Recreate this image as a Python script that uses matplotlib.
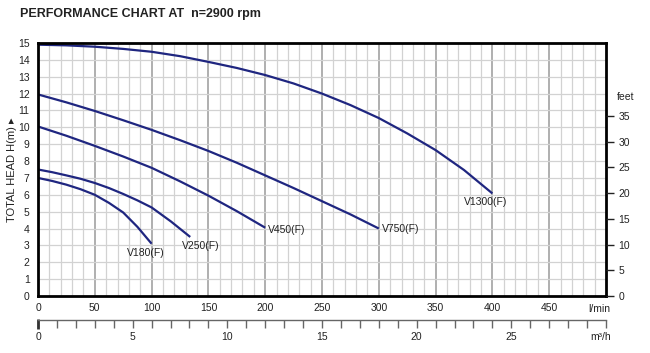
import numpy as np
import matplotlib
matplotlib.use("Agg")
import matplotlib.pyplot as plt
from matplotlib.ticker import MultipleLocator

# --- Data ---
v1300_q = [0, 25, 50, 75, 100, 125, 150, 175, 200, 225, 250, 275, 300, 325, 350, 375, 400]
v1300_h = [14.9, 14.86, 14.78, 14.65, 14.48, 14.22, 13.88, 13.52, 13.1, 12.6, 12.0, 11.32,
           10.55, 9.64, 8.65, 7.47, 6.08]

v750_q = [0, 25, 50, 75, 100, 125, 150, 175, 200, 225, 250, 275, 300]
v750_h = [11.95, 11.48, 10.97, 10.42, 9.85, 9.24, 8.6, 7.9, 7.15, 6.4, 5.62, 4.84, 4.0]

v450_q = [0, 25, 50, 75, 100, 125, 150, 175, 200]
v450_h = [10.05, 9.5, 8.9, 8.27, 7.6, 6.8, 5.95, 5.03, 4.05]

v250_q = [0, 12.5, 25, 37.5, 50, 62.5, 75, 87.5, 100, 117, 134]
v250_h = [7.5, 7.34, 7.15, 6.95, 6.7, 6.4, 6.05, 5.67, 5.25, 4.42, 3.5]

v180_q = [0, 12.5, 25, 37.5, 50, 62.5, 75, 87.5, 100]
v180_h = [7.0, 6.82, 6.6, 6.33, 6.0, 5.52, 4.95, 4.1, 3.1]

curves = [
    ("V1300(F)", v1300_q, v1300_h),
    ("V750(F)", v750_q, v750_h),
    ("V450(F)", v450_q, v450_h),
    ("V250(F)", v250_q, v250_h),
    ("V180(F)", v180_q, v180_h),
]

x_ticks = [0, 50, 100, 150, 200, 250, 300, 350, 400, 450]
m3h_ticks = [0, 5, 10, 15, 20, 25]
feet_ticks = [0, 5, 10, 15, 20, 25, 30, 35]

plt.rcParams['font.family'] = ['Liberation Sans', 'DejaVu Sans']
line_col = '#1f2680'
txt_col = '#222222'

W, H = 650, 353
fig = plt.figure(figsize=(W / 100, H / 100), dpi=100)

# --- Main chart ---
x0, x1, ytop, ybot = 38, 606, 43, 296
ax = fig.add_axes([x0 / W, 1 - ybot / H, (x1 - x0) / W, (ybot - ytop) / H])
ax.set_xlim(0, 500)
ax.set_ylim(0, 15)

ax.xaxis.set_major_locator(MultipleLocator(50))
ax.xaxis.set_minor_locator(MultipleLocator(10))
ax.yaxis.set_major_locator(MultipleLocator(1))
ax.grid(which='minor', axis='x', color='#d2d2d2', lw=0.9)
ax.grid(which='major', axis='x', color='#9a9a9a', lw=1.1)
ax.grid(which='major', axis='y', color='#d2d2d2', lw=0.9)
ax.set_axisbelow(True)

for s in ax.spines.values():
    s.set_linewidth(2)
    s.set_color('black')

ax.set_xticks(x_ticks)
ax.tick_params(axis='both', which='both', length=0, labelsize=7.5, colors=txt_col)
ax.tick_params(axis='x', pad=5)
ax.tick_params(axis='y', pad=6)
ax.set_ylabel("TOTAL HEAD H(m) \u25b8", fontsize=8, color=txt_col, labelpad=1,
              family=['Liberation Sans', 'DejaVu Sans'])
ax.annotate("l/min", (494, 0), xytext=(0, -6), textcoords='offset points',
            ha='center', va='top', fontsize=7.5, color=txt_col, annotation_clip=False)

for name, q, h in curves:
    ax.plot(q, h, color=line_col, lw=1.6, solid_capstyle='butt', solid_joinstyle='round')

# curve labels
ax.text(394, 5.55, "V1300(F)", ha='center', va='center', fontsize=7.5, color=txt_col)
ax.text(303, 3.95, "V750(F)", ha='left', va='center', fontsize=7.5, color=txt_col)
ax.text(202, 3.9, "V450(F)", ha='left', va='center', fontsize=7.5, color=txt_col)
ax.text(143, 2.98, "V250(F)", ha='center', va='center', fontsize=7.5, color=txt_col)
ax.text(95, 2.57, "V180(F)", ha='center', va='center', fontsize=7.5, color=txt_col)

# --- Feet axis on the right ---
axr = ax.twinx()
axr.set_ylim(0, 15 * 3.28084)
axr.set_yticks(feet_ticks)
axr.tick_params(axis='y', length=6, width=1, colors=txt_col, labelsize=7.5, pad=3)
for s in axr.spines.values():
    s.set_visible(False)
axr.text(1.02, 37.8, "feet", transform=axr.get_yaxis_transform(), ha='left', va='bottom',
         fontsize=7.5, color=txt_col)

# --- m3/h scale below ---
y3 = 320
h3 = 20
ax3 = fig.add_axes([x0 / W, 1 - y3 / H, (x1 - x0) / W, h3 / H])
ax3.patch.set_visible(False)
ax3.set_xlim(0, 30)
ax3.set_ylim(0, 1)
ax3.set_yticks([])
for k in ['top', 'left', 'right']:
    ax3.spines[k].set_visible(False)
ax3.spines['bottom'].set_color('#666666')
ax3.spines['bottom'].set_linewidth(1)
ax3.set_xticks(m3h_ticks)
ax3.xaxis.set_minor_locator(MultipleLocator(1))
ax3.tick_params(axis='x', which='both', direction='out', length=6, width=1,
                colors='#666666', labelcolor=txt_col, labelsize=7.5, pad=3)
ax3.annotate("m\u00b3/h", (29.7, 0), xycoords=('data', 'axes fraction'),
             xytext=(0, -9), textcoords='offset points', ha='center', va='top',
             fontsize=7.5, color=txt_col, annotation_clip=False)
# thicker zero tick
ax3.plot([0, 0], [0.05, -0.45], color='#333333', lw=2, clip_on=False, solid_capstyle='butt')

# --- Title ---
fig.text(20 / W, 1 - 14 / H, "PERFORMANCE CHART AT  n=2900 rpm", ha='left', va='center',
         fontsize=9, fontweight='bold', color='#222222')

fig.savefig("out.png", dpi=100)
